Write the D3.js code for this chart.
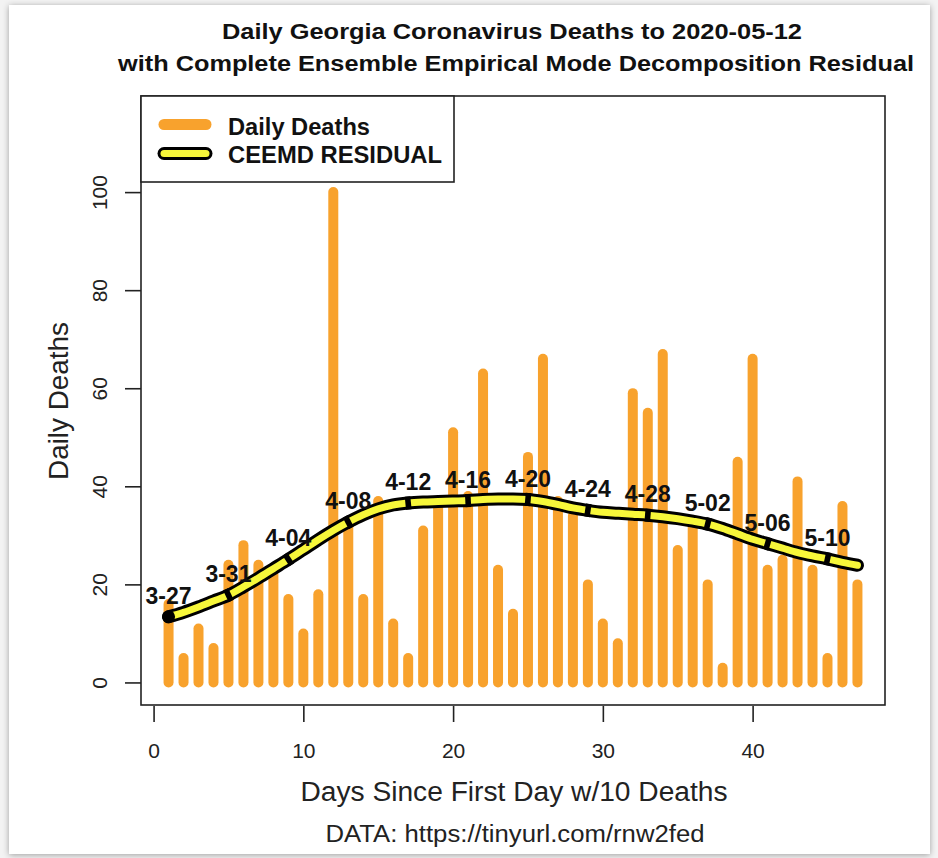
<!DOCTYPE html>
<html><head><meta charset="utf-8">
<script src="https://cdn.jsdelivr.net/npm/d3@7"></script>
<style>
body{margin:0;background:#efefef;}
svg{display:block;font-family:"Liberation Sans",Arial,Helvetica,sans-serif;}
</style>
</head><body>
<svg id="c" width="938" height="858"></svg>
<script>
// ---- data ----
const days = [1,2,3,4,5,6,7,8,9,10,11,12,13,14,15,16,17,18,19,20,21,22,23,24,25,26,27,28,29,30,31,32,33,34,35,36,37,38,39,40,41,42,43,44,45,46,47];
const deaths = [16,5,11,7,24,28,24,22,17,10,18,100,32,17,37,12,5,31,36,51,38,63,23,14,46,66,37,34,20,12,8,59,55,67,27,33,20,3,45,66,23,25,41,23,5,36,20];
const residual = [13.4,14.3,15.4,16.6,17.8,19.5,21.3,23.2,25.1,27.1,29.1,31.0,32.7,34.2,35.4,36.2,36.6,36.8,36.9,37.0,37.1,37.3,37.4,37.4,37.3,36.9,36.3,35.6,35.1,34.7,34.5,34.3,34.1,33.8,33.4,32.9,32.3,31.4,30.3,29.2,28.3,27.4,26.5,25.8,25.2,24.5,23.9];
const markerDays = [1,5,9,13,17,21,25,29,33,37,41,45];
const markerLabels = ["3-27","3-31","4-04","4-08","4-12","4-16","4-20","4-24","4-28","5-02","5-06","5-10"];
const xTicks = [0,10,20,30,40];
const yTicks = [0,20,40,60,80,100];
const titleLines = ["Daily Georgia Coronavirus Deaths to 2020-05-12","with Complete Ensemble Empirical Mode Decomposition Residual"];
const legendLabels = ["Daily Deaths","CEEMD RESIDUAL"];

const ORANGE = "#F8A22D", YELLOW = "#F7F73A";
const svg = d3.select("#c");

// card with shadow
const defs = svg.append("defs");
const f = defs.append("filter").attr("id","sh").attr("x","-5%").attr("y","-5%").attr("width","110%").attr("height","110%");
f.append("feDropShadow").attr("dx",0).attr("dy",1).attr("stdDeviation",3).attr("flood-color","#000").attr("flood-opacity",0.35);
svg.append("rect").attr("x",0).attr("y",0).attr("width",938).attr("height",858).attr("fill","#f3f3f3");
svg.append("rect").attr("x",9).attr("y",5).attr("width",921).attr("height",849).attr("fill","#fff").attr("filter","url(#sh)");

// plot region
const L = 141, R = 885, T = 96, B = 705;
const x = d3.scaleLinear().domain([-0.84, 48.84]).range([L, R]);
const y = d3.scaleLinear().domain([-4.6, 119.6]).range([B, T]);

// bars
svg.append("g").selectAll("line").data(days).join("line")
  .attr("x1", d => x(d)).attr("x2", d => x(d))
  .attr("y1", y(0)).attr("y2", (d,i) => y(deaths[i]))
  .attr("stroke", ORANGE).attr("stroke-width", 10).attr("stroke-linecap","round");

// residual curve
const pts = days.map((d,i) => [x(d), y(residual[i])]);
const line = d3.line().curve(d3.curveMonotoneX);
svg.append("path").attr("d", line(pts)).attr("fill","none").attr("stroke","#000").attr("stroke-width",13).attr("stroke-linecap","round").attr("stroke-linejoin","round");
svg.append("path").attr("d", line(pts)).attr("fill","none").attr("stroke",YELLOW).attr("stroke-width",7).attr("stroke-linecap","round").attr("stroke-linejoin","round");

// markers: black dashes across the band, oriented with the local slope
const mg = svg.append("g");
markerDays.forEach((d, k) => {
  const i = days.indexOf(d);
  const [px, py] = pts[i];
  if (k === 0) {
    mg.append("circle").attr("cx", px).attr("cy", py).attr("r", 6.5).attr("fill", "#000");
  } else {
    const a = pts[Math.max(0, i-1)], b = pts[Math.min(pts.length-1, i+1)];
    const ang = Math.atan2(b[1]-a[1], b[0]-a[0]) * 180 / Math.PI;
    mg.append("rect").attr("x", -2.8).attr("y", -6.5).attr("width", 5.6).attr("height", 13)
      .attr("fill", "#000").attr("transform", `translate(${px},${py}) rotate(${ang})`);
  }
});
svg.append("g").selectAll("text").data(markerDays).join("text")
  .attr("x", d => x(d)).attr("y", d => y(residual[days.indexOf(d)]) - 13)
  .attr("text-anchor","middle").attr("font-weight","bold").attr("font-size",23).attr("fill","#111")
  .text((d,i) => markerLabels[i]);

// box
svg.append("rect").attr("x",L).attr("y",T).attr("width",R-L).attr("height",B-T).attr("fill","none").attr("stroke","#222").attr("stroke-width",1.6);

// axes
const xAxis = d3.axisBottom(x).tickValues(xTicks).tickSize(16).tickPadding(21).tickFormat(d3.format("d"));
const gx = svg.append("g").attr("transform",`translate(0,${B+1})`).call(xAxis);
gx.select(".domain").remove();
gx.selectAll("line").attr("stroke","#222").attr("stroke-width",1.6);
gx.selectAll("text").attr("font-size",21).attr("fill","#222").attr("font-family","Liberation Sans, Arial, sans-serif");

const yAxis = d3.axisLeft(y).tickValues(yTicks).tickSize(16).tickFormat(d3.format("d"));
const gy = svg.append("g").attr("transform",`translate(${L},0)`).call(yAxis);
gy.select(".domain").remove();
gy.selectAll("line").attr("stroke","#222").attr("stroke-width",1.6);
gy.selectAll("text").attr("font-size",21).attr("fill","#222").attr("font-family","Liberation Sans, Arial, sans-serif")
  .attr("x",null).attr("dy",null).attr("text-anchor","middle")
  .attr("transform","translate(-34,0) rotate(-90)").attr("y",0);

// titles
svg.append("text").attr("x",512).attr("y",39).attr("text-anchor","middle").attr("font-weight","bold").attr("font-size",22)
  .attr("textLength",580).attr("lengthAdjust","spacingAndGlyphs").attr("fill","#111").text(titleLines[0]);
svg.append("text").attr("x",516).attr("y",71).attr("text-anchor","middle").attr("font-weight","bold").attr("font-size",22)
  .attr("textLength",796).attr("lengthAdjust","spacingAndGlyphs").attr("fill","#111").text(titleLines[1]);

svg.append("text").attr("x",514).attr("y",801).attr("text-anchor","middle").attr("font-size",27)
  .attr("textLength",427).attr("lengthAdjust","spacingAndGlyphs").attr("fill","#222").text("Days Since First Day w/10 Deaths");
svg.append("text").attr("x",515).attr("y",842).attr("text-anchor","middle").attr("font-size",23)
  .attr("textLength",379).attr("lengthAdjust","spacingAndGlyphs").attr("fill","#222").text("DATA: https://tinyurl.com/rnw2fed");
svg.append("text").attr("transform","translate(68,401) rotate(-90)").attr("text-anchor","middle").attr("font-size",27)
  .attr("textLength",158).attr("lengthAdjust","spacingAndGlyphs").attr("fill","#222").text("Daily Deaths");

// legend
const lg = svg.append("g");
lg.append("rect").attr("x",L).attr("y",T).attr("width",313).attr("height",86).attr("fill","#fff").attr("stroke","#222").attr("stroke-width",1.6);
lg.append("line").attr("x1",164).attr("x2",206).attr("y1",124.5).attr("y2",124.5).attr("stroke",ORANGE).attr("stroke-width",11).attr("stroke-linecap","round");
lg.append("line").attr("x1",164).attr("x2",206).attr("y1",153.5).attr("y2",153.5).attr("stroke","#000").attr("stroke-width",13).attr("stroke-linecap","round");
lg.append("line").attr("x1",164).attr("x2",206).attr("y1",153.5).attr("y2",153.5).attr("stroke",YELLOW).attr("stroke-width",7).attr("stroke-linecap","round");
lg.append("text").attr("x",228).attr("y",135).attr("font-weight","bold").attr("font-size",24)
  .attr("textLength",142).attr("lengthAdjust","spacingAndGlyphs").attr("fill","#111").text(legendLabels[0]);
lg.append("text").attr("x",228).attr("y",163).attr("font-weight","bold").attr("font-size",24)
  .attr("textLength",214).attr("lengthAdjust","spacingAndGlyphs").attr("fill","#111").text(legendLabels[1]);
</script>
</body></html>
